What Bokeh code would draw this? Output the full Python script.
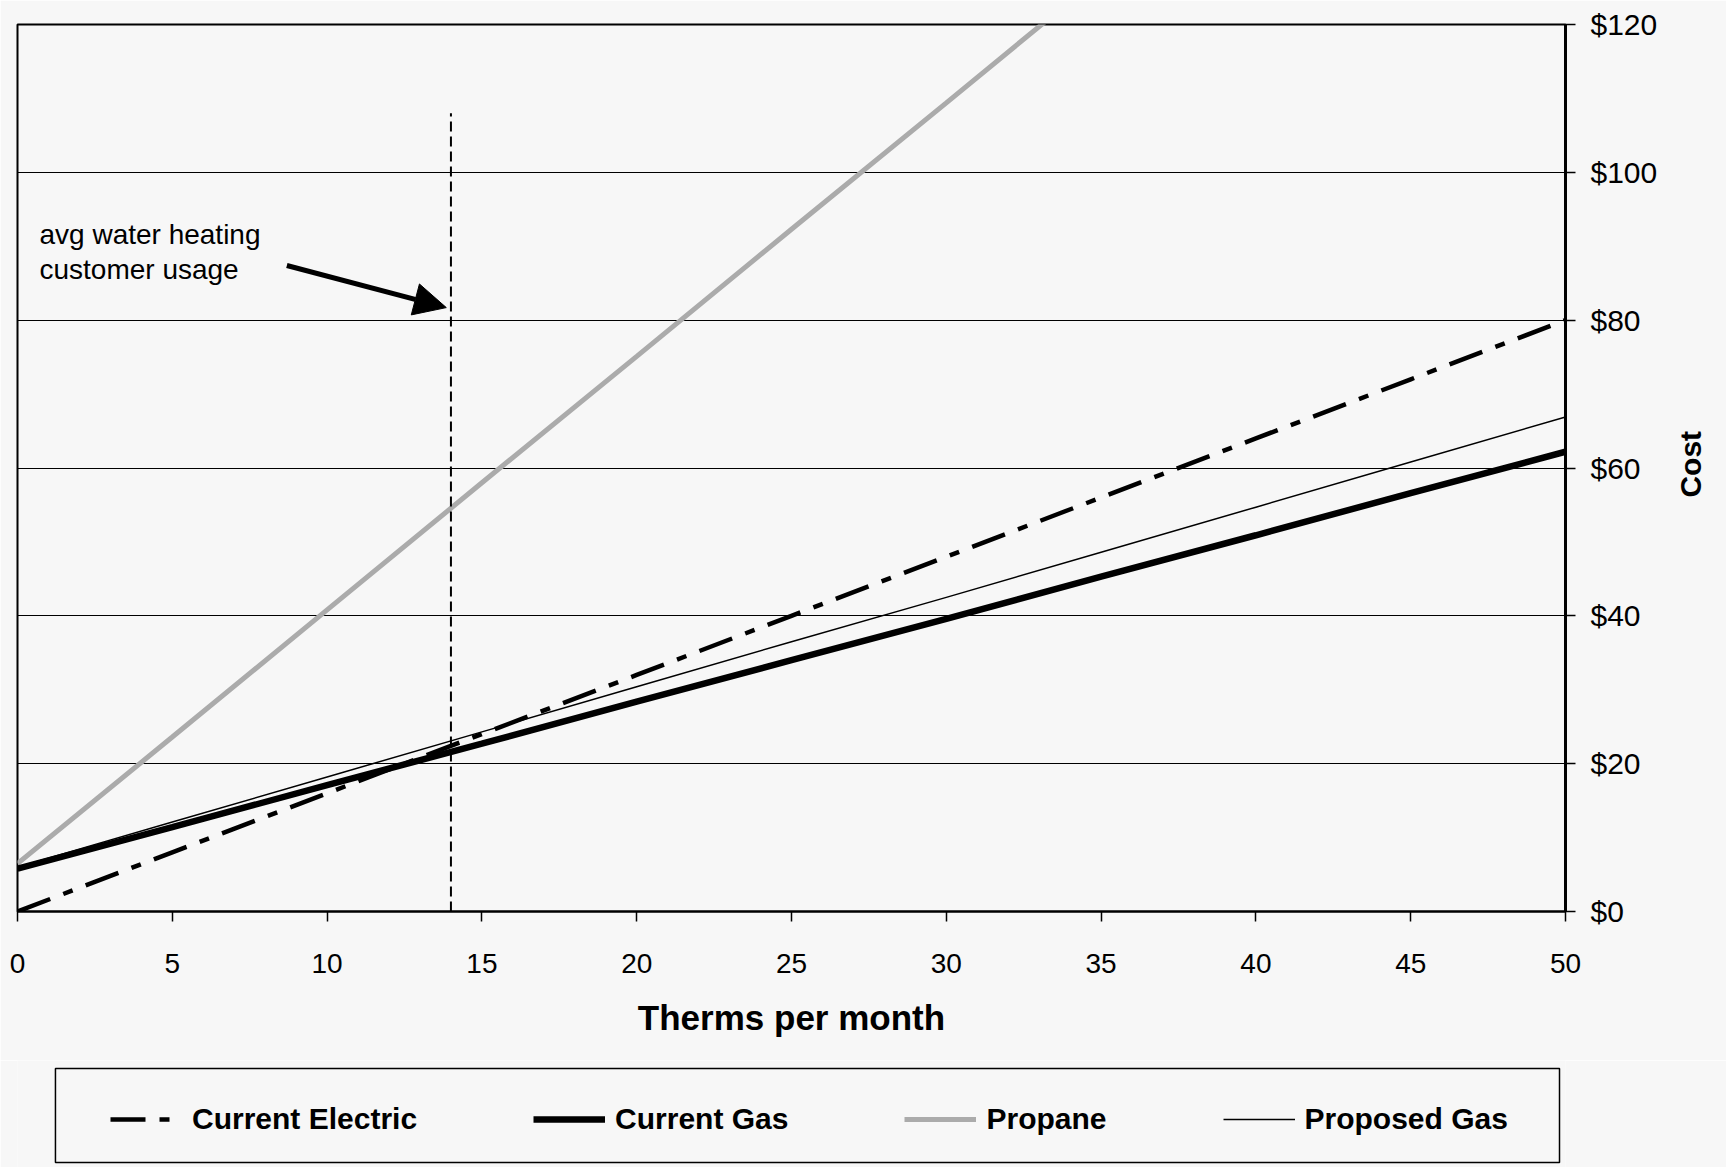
import math

from bokeh.plotting import figure
from bokeh.layouts import column
from bokeh.models import (Range1d, FixedTicker, NumeralTickFormatter, Legend,
                          LegendItem, Label, Arrow, NormalHead, LinearAxis)
from bokeh.embed import file_html
from bokeh.resources import INLINE

# Monthly water-heating cost by fuel, versus therms used per month
therms = [0, 5, 10, 15, 20, 25, 30, 35, 40, 45, 50]
current_electric = [0.0, 8.0, 16.0, 24.0, 32.0, 40.0, 48.0, 56.0, 64.0, 72.0, 80.0]
current_gas = [5.8, 11.4, 17.1, 22.7, 28.4, 34.0, 39.6, 45.3, 50.9, 56.6, 62.2]
propane = [6.5, 23.6, 40.8, 58.0, 75.1, 92.3, 109.4, 126.6, 143.7, 160.9, 178.0]
proposed_gas = [6.0, 12.1, 18.2, 24.3, 30.4, 36.5, 42.5, 48.6, 54.7, 60.8, 66.9]

x_ticks = [0, 5, 10, 15, 20, 25, 30, 35, 40, 45, 50]
y_ticks = [0, 20, 40, 60, 80, 100, 120]

avg_usage = 14          # therms / month, average water-heating customer
avg_marker_top = 108    # height of the marker line, $

note_lines = ["avg water heating", "customer usage"]
y_title = "Cost"
x_title = "Therms per month"
series_names = ["Current Electric", "Current Gas", "Propane", "Proposed Gas"]
series_values = {
    "Current Electric": current_electric,
    "Current Gas": current_gas,
    "Propane": propane,
    "Proposed Gas": proposed_gas,
}

BG = "#f7f7f7"
FONT = "Liberation Sans"
LEFT, RIGHT = 17, 159          # borders shared by the chart and the key strip

# line styles shared by the chart and its key
STYLES = {
    "Current Electric": dict(line_color="black", line_width=4.5, line_dash="35 14 10 14"),
    "Current Gas": dict(line_color="black", line_width=6.5),
    "Propane": dict(line_color="#ababab", line_width=5),
    "Proposed Gas": dict(line_color="black", line_width=1.5),
}

p = figure(width=1726, height=1060, output_backend="svg", toolbar_location=None,
           x_range=Range1d(0, 50), y_range=Range1d(0, 120),
           y_axis_location="right",
           min_border_left=LEFT, min_border_right=RIGHT,
           min_border_top=24, min_border_bottom=149,
           background_fill_color=BG, border_fill_color=BG)

p.outline_line_color = "black"
p.outline_line_width = 2

p.xgrid.grid_line_color = None
p.ygrid.grid_line_color = "black"
p.ygrid.grid_line_width = 1.2
p.ygrid.ticker = FixedTicker(ticks=y_ticks)

# x axis
xa = p.xaxis[0]
xa.ticker = FixedTicker(ticks=x_ticks)
xa.axis_line_color = "black"
xa.axis_line_width = 2
xa.major_tick_line_color = "black"
xa.major_tick_line_width = 1.5
xa.major_tick_out = 10
xa.major_tick_in = 0
xa.minor_tick_line_color = None
xa.major_label_text_font = FONT
xa.major_label_text_font_size = "28px"
xa.major_label_text_color = "black"
xa.major_label_standoff = 32
xa.axis_label = x_title
xa.axis_label_text_font = FONT
xa.axis_label_text_font_style = "bold"
xa.axis_label_text_font_size = "35px"
xa.axis_label_text_color = "black"
xa.axis_label_standoff = 22

# dollar axis on the right
ya = p.yaxis[0]
ya.ticker = FixedTicker(ticks=y_ticks)
ya.formatter = NumeralTickFormatter(format="$0")
ya.axis_line_color = "black"
ya.axis_line_width = 3
ya.major_tick_line_color = "black"
ya.major_tick_line_width = 1.5
ya.major_tick_out = 10
ya.major_tick_in = 0
ya.minor_tick_line_color = None
ya.major_label_text_font = FONT
ya.major_label_text_font_size = "30px"
ya.major_label_text_color = "black"
ya.major_label_standoff = 15

# "Cost" title, reading bottom to top; the rotated text starts at its anchor
# and runs upward, so the anchor sits a little below mid-axis
cost_anchor = 56
cost_axis = LinearAxis(ticker=FixedTicker(ticks=[cost_anchor]),
                       major_label_overrides={cost_anchor: y_title},
                       major_label_orientation=math.pi / 2,
                       axis_line_color=None, major_tick_line_color=None,
                       minor_tick_line_color=None,
                       major_tick_out=0, major_tick_in=0,
                       major_label_standoff=30,
                       major_label_text_font=FONT,
                       major_label_text_font_style="bold",
                       major_label_text_font_size="30px",
                       major_label_text_color="black")
p.add_layout(cost_axis, "right")

# series
for name in ["Propane", "Proposed Gas", "Current Gas", "Current Electric"]:
    p.line(therms, series_values[name], **STYLES[name])

# average usage marker
p.line([avg_usage, avg_usage], [0, avg_marker_top], line_color="black",
       line_width=2, line_dash="10 5")

# note with arrow pointing at the marker
p.add_layout(Label(x=0.71, y=91.6, text=note_lines[0], text_font=FONT,
                   text_font_size="28px", text_color="black",
                   text_baseline="alphabetic"))
p.add_layout(Label(x=0.71, y=86.9, text=note_lines[1], text_font=FONT,
                   text_font_size="28px", text_color="black",
                   text_baseline="alphabetic"))
p.add_layout(Arrow(x_start=8.7, y_start=87.4, x_end=avg_usage - 0.15, y_end=81.7,
                   line_color="black", line_width=5,
                   end=NormalHead(size=32, fill_color="black", line_color="black")))

# key strip underneath; its ranges are in page pixels so the box sits where wanted
k = figure(width=1726, height=107, output_backend="svg", toolbar_location=None,
           x_range=Range1d(LEFT, 1726 - RIGHT), y_range=Range1d(1167, 1060),
           x_axis_location=None, y_axis_location=None,
           min_border_left=LEFT, min_border_right=RIGHT,
           min_border_top=0, min_border_bottom=0,
           background_fill_color=BG, border_fill_color=BG)
k.grid.visible = False
k.outline_line_color = None
k.quad(left=55, right=1561, top=1068, bottom=1162,
       fill_color=BG, line_color="black", line_width=1.5)

items = []
for name in series_names:
    # same series again; it falls outside this strip's ranges, only its key glyph shows
    r = k.line(therms, series_values[name], **STYLES[name])
    items.append(LegendItem(label=name, renderers=[r]))

legend = Legend(items=items, orientation="horizontal", location=(83, 21))
legend.border_line_alpha = 0
legend.background_fill_alpha = 0
legend.padding = 10
legend.spacing = 116
legend.glyph_width = 72
legend.glyph_height = 30
legend.label_height = 30
legend.label_standoff = 10
legend.label_text_font = FONT
legend.label_text_font_style = "bold"
legend.label_text_font_size = "30px"
legend.label_text_color = "black"
k.add_layout(legend, "center")

layout = column(p, k, spacing=0)
open("out.html", "w").write(file_html(layout, INLINE))
